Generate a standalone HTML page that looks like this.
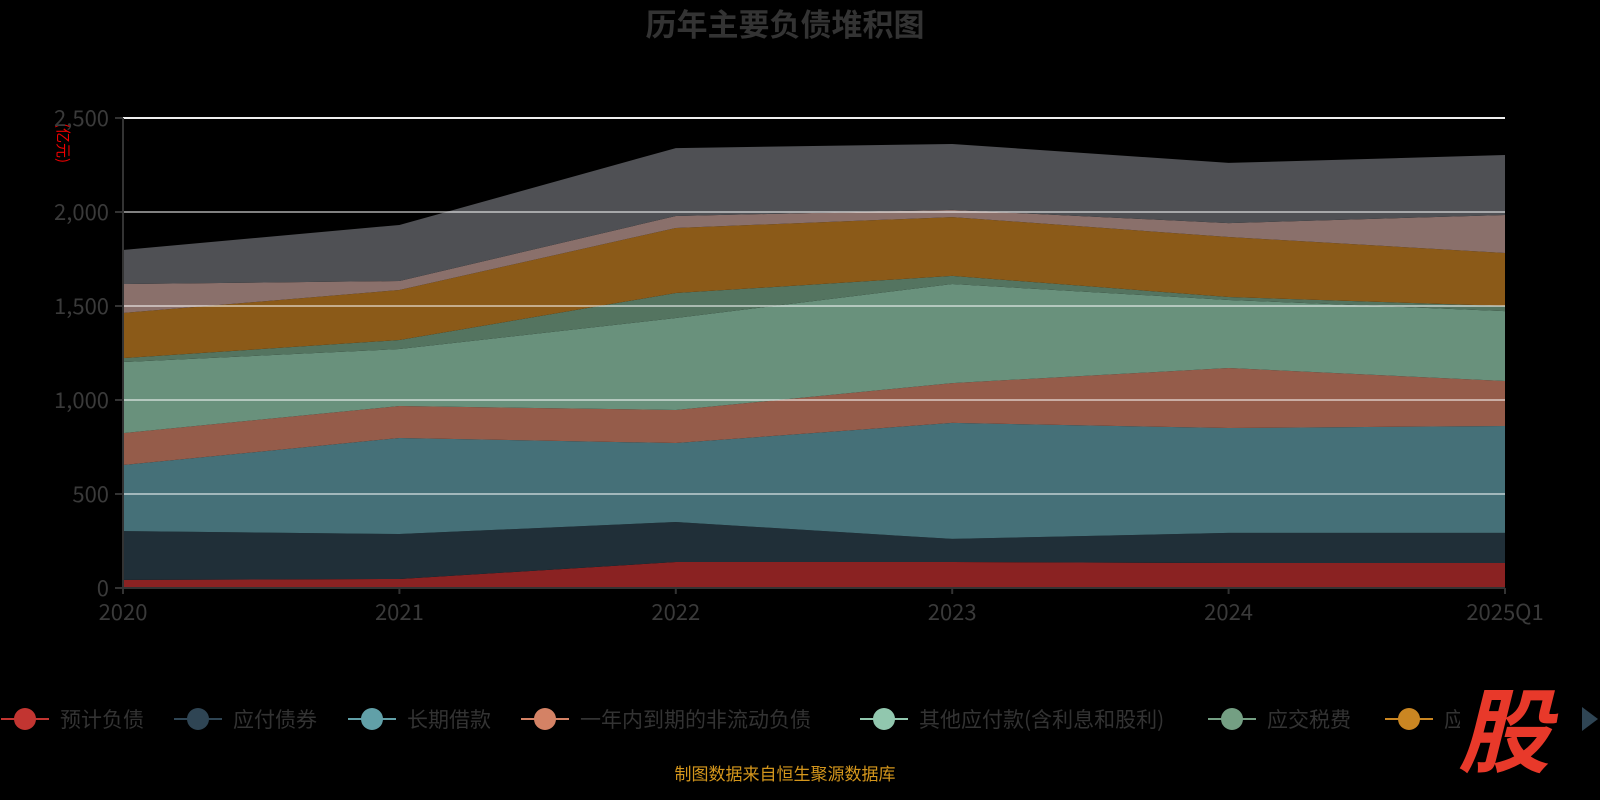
<!DOCTYPE html>
<html><head><meta charset="utf-8"><style>
html,body{margin:0;padding:0;background:#000;width:1600px;height:800px;overflow:hidden}
svg text{font-family:"Noto Sans CJK SC","Liberation Sans",sans-serif}
</style></head><body>
<svg id="c" width="1600" height="800">
<text x="785" y="36" text-anchor="middle" font-size="31" font-weight="bold" fill="#333">历年主要负债堆积图</text>
<text transform="translate(58,143) rotate(90)" text-anchor="middle" font-size="15" fill="#e00">(亿元)</text>
<g id="areas"></g><g id="grid"></g><g id="axes"></g><g id="legend"></g>
<text x="785" y="780" text-anchor="middle" font-size="17" fill="#d4961c">制图数据来自恒生聚源数据库</text>
</svg>
<script>
const categories=["2020","2021","2022","2023","2024","2025Q1"];
const seriesNames=["预计负债","应付债券","长期借款","一年内到期的非流动负债","其他应付款(含利息和股利)","应交税费","应付账款","应付票据","其他负债"];
const s0=[43,48,138,138,133,133];
const s1=[260,239,213,123,160,160];
const s2=[351,511,420,617,558,569];
const s3=[170,170,176,212,319,239];
const s4=[378,303,489,527,362,372];
const s5=[21,48,133,43,16,27];
const s6=[240,266,346,313,319,282];
const s7=[154,48,64,38,74,202];
const s8=[181,298,361,351,320,319];
const yTicks=[0,500,1000,1500,2000,2500];
const yTickLabels=["0","500","1,000","1,500","2,000","2,500"];
const series=[s0,s1,s2,s3,s4,s5,s6,s7,s8];
const fills=["#8a2222","#202f38","#457078","#955c4a","#69917c","#547460","#8b5a18","#8a706b","#4f5054"];
const legendColors=["#c23531","#2f4554","#61a0a8","#d48265","#91c7ae","#749f83","#ca8622"];
const NS="http://www.w3.org/2000/svg";
const x0=123,x1=1505,yb=588,yt=118,ymax=2500;
const X=i=>x0+(x1-x0)*i/(categories.length-1);
const Y=v=>yb-(yb-yt)*v/ymax;
function mk(t,a,p){const e=document.createElementNS(NS,t);for(const k in a)e.setAttribute(k,a[k]);p.appendChild(e);return e;}
const areas=document.getElementById('areas');
let base=categories.map(()=>0);
series.forEach((s,k)=>{
  const top=base.map((b,i)=>b+s[i]);
  let d="M"+top.map((v,i)=>X(i)+","+Y(v)).join(" L");
  for(let i=categories.length-1;i>=0;i--)d+=" L"+X(i)+","+Y(base[i]);
  const p=mk('path',{d:d+"Z",fill:fills[k]},areas);
  
  
  base=top;
});
const grid=document.getElementById('grid'),axes=document.getElementById('axes');
yTicks.forEach((v,i)=>{
  if(v>0){const l=mk('line',{x1:x0,x2:x1,y1:Y(v),y2:Y(v),stroke:v==2500?"#eee":"rgba(255,255,255,0.5)","stroke-width":2},grid);
  
  }
  mk('line',{x1:x0-8,x2:x0,y1:Y(v),y2:Y(v),stroke:"#333","stroke-width":2},axes);
  const t=mk('text',{x:x0-14,y:Y(v)+8,"text-anchor":"end","font-size":22,fill:"#3a3a3a"},axes);
  t.textContent=yTickLabels[i];
  
  
});
mk('line',{x1:x0,x2:x0,y1:yt,y2:yb,stroke:"#333","stroke-width":2},axes);
mk('line',{x1:x0,x2:x1,y1:yb,y2:yb,stroke:"#333","stroke-width":2},axes);
categories.forEach((c,i)=>{
  mk('line',{x1:X(i),x2:X(i),y1:yb,y2:yb+6,stroke:"#333","stroke-width":2},axes);
  const t=mk('text',{x:X(i),y:620,"text-anchor":"middle","font-size":22,fill:"#3a3a3a"},axes);
  t.textContent=c;
  
  
});
const lg=document.getElementById('legend');
const lx=[25,198,372,545,884,1232,1409];
lx.forEach((cx,i)=>{
  const g=mk('g',{},lg);
  
  
  mk('line',{x1:cx-24,x2:cx+24,y1:719,y2:719,stroke:legendColors[i],"stroke-width":2},g);
  mk('circle',{cx:cx,cy:719,r:11,fill:legendColors[i]},g);
  const t=mk('text',{x:cx+35,y:727,"font-size":21,fill:"#333"},g);
  t.textContent=seriesNames[i];
  if(i==6)t.setAttribute('clip-path','url(#lc)');
});
const defs=mk('defs',{},lg);const cp=mk('clipPath',{id:'lc'},defs);mk('rect',{x:0,y:690,width:1460,height:60},cp);
const logo=mk('text',{x:1458,y:765,"font-size":92,"font-weight":"bold","font-style":"italic",fill:"#e8392a"},lg);
logo.textContent="股";


const arr=mk('path',{d:"M1582,707 L1598,719 L1582,731Z",fill:"#2f4554"},lg);


</script>
</body></html>
